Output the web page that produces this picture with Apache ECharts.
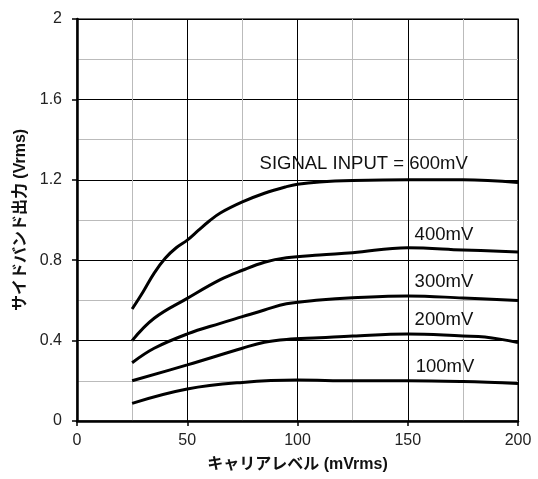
<!DOCTYPE html>
<html>
<head>
<meta charset="utf-8">
<script src="https://cdn.jsdelivr.net/npm/echarts@6/dist/echarts.min.js"></script>
<style>html,body{margin:0;padding:0;background:#fff;}#c{width:538px;height:479px;}</style>
</head>
<body>
<div id="c"></div>
<script>
const FONT = '"Liberation Sans", Arial, "Noto Sans CJK JP", sans-serif';
const xTitle = 'キャリアレベル (mVrms)';
const yTitle = 'サイドバンド出力 (Vrms)';

const s600 = [[25,0.557],[30,0.643],[35,0.736],[40,0.81],[45,0.862],[50,0.90],[55,0.948],[60,0.995],[65,1.035],[75,1.09],[85,1.133],[95,1.166],[100,1.178],[110,1.189],[125,1.196],[150,1.20],[175,1.20],[200,1.186]];
const s400 = [[25,0.40],[35,0.511],[50,0.61],[65,0.703],[75,0.75],[85,0.79],[95,0.812],[110,0.826],[125,0.837],[150,0.862],[175,0.851],[200,0.841]];
const s300 = [[25,0.29],[35,0.362],[50,0.433],[65,0.486],[75,0.519],[85,0.552],[95,0.583],[110,0.602],[125,0.613],[150,0.622],[175,0.612],[200,0.599]];
const s200 = [[25,0.20],[50,0.279],[75,0.362],[85,0.392],[95,0.406],[110,0.414],[125,0.423],[150,0.433],[175,0.423],[185,0.418],[200,0.391]];
const s100 = [[25,0.088],[50,0.159],[75,0.192],[100,0.204],[125,0.200],[150,0.20],[175,0.196],[200,0.187]];

const seriesNames = ['SIGNAL INPUT = 600mV','400mV','300mV','200mV','100mV'];
const labelPos = [[130,1.279],[166.4,0.925],[166.4,0.693],[166.4,0.502],[166.9,0.270]];
const allData = [s600,s400,s300,s200,s100];

const chart = echarts.init(document.getElementById('c'));
chart.setOption({
  backgroundColor:'#fff',
  animation:false,
  grid:{left:77,top:19,right:20,bottom:58,show:true,borderColor:'#444',borderWidth:1.5,backgroundColor:'transparent'},
  xAxis:{type:'value',min:0,max:200,interval:50,
    name:xTitle,nameLocation:'middle',nameGap:36,
    nameTextStyle:{fontFamily:FONT,fontWeight:'bold',fontSize:16,color:'#111'},
    axisLine:{show:true,onZero:false,lineStyle:{color:'#000',width:2.5}},
    axisTick:{show:true,length:5,inside:false,lineStyle:{color:'#000',width:1.5}},
    axisLabel:{fontFamily:FONT,fontSize:16,color:'#222',margin:12},
    splitLine:{show:true,lineStyle:{color:'#000',width:1}},
    minorTick:{show:false,splitNumber:2},
    minorSplitLine:{show:true,lineStyle:{color:'#bbb',width:1}}
  },
  yAxis:{type:'value',min:0,max:2,interval:0.4,
    name:yTitle,nameLocation:'middle',nameGap:44,
    nameTextStyle:{fontFamily:FONT,fontWeight:'bold',fontSize:16,color:'#111'},
    axisLine:{show:true,onZero:false,lineStyle:{color:'#000',width:2.5}},
    axisTick:{show:true,length:5,inside:false,lineStyle:{color:'#000',width:1.5}},
    axisLabel:{fontFamily:FONT,fontSize:16,color:'#222',margin:15},
    splitLine:{show:true,lineStyle:{color:'#000',width:1}},
    minorTick:{show:false,splitNumber:2},
    minorSplitLine:{show:true,lineStyle:{color:'#bbb',width:1}}
  },
  series: allData.map((d,i)=>({
    type:'line',name:seriesNames[i],data:d,smooth:0.4,symbol:'none',
    lineStyle:{color:'#000',width:3},
    markPoint:{symbol:'circle',symbolSize:0,silent:true,
      label:{show:true,position:'inside',formatter:seriesNames[i],fontFamily:FONT,fontSize:18.5,color:'#111'},
      data:[{coord:labelPos[i]}]}
  }))
});
</script>
</body>
</html>
